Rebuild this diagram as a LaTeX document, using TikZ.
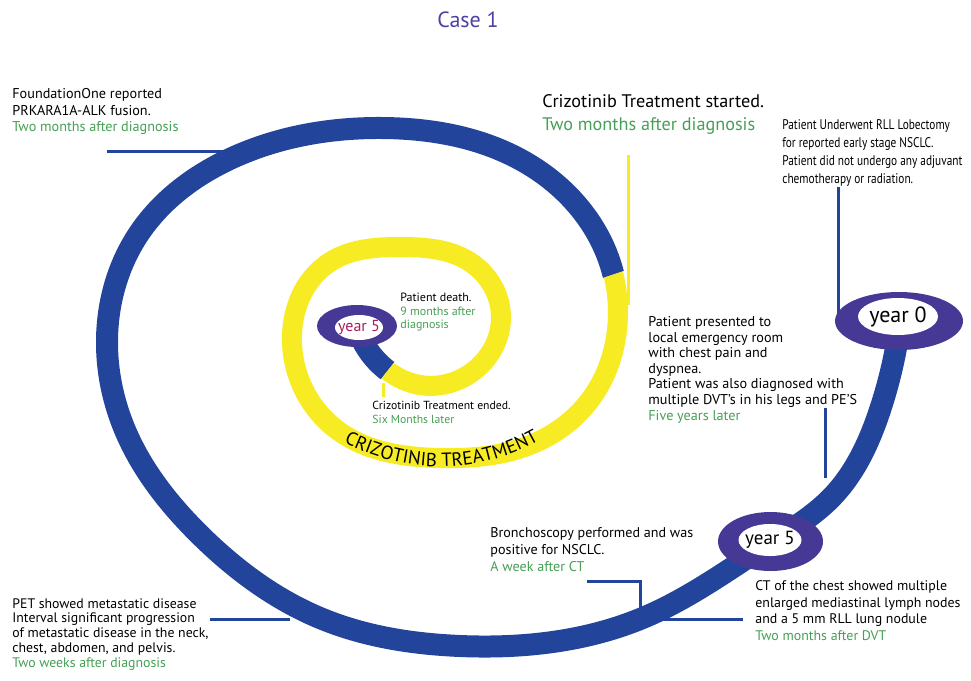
\documentclass[tikz,border=0pt]{standalone}
\usepackage{fontspec}
\setmainfont{PT Sans}
\newfontfamily\narrowfont{PT Sans}[FakeStretch=0.81]
\usetikzlibrary{shapes.geometric, decorations.text, hobby}

\definecolor{bandblue}{RGB}{34, 68, 155}
\definecolor{bandyellow}{RGB}{247, 236, 35}
\definecolor{ringpurple}{RGB}{70, 57, 150}
\definecolor{notegreen}{RGB}{70, 160, 85}
\definecolor{titlepurple}{RGB}{75, 65, 165}
\definecolor{deathred}{RGB}{175, 25, 95}

\newcommand{\when}[1]{\textcolor{notegreen}{#1}}
\newcommand{\fsize}[2]{\fontsize{#1}{#2}\selectfont}
\newcommand{\bandfont}{\fontsize{9.5}{9.5}\selectfont}
% centre line of the timeline, from year 0 inwards
\newcommand{\casespiral}{(899,-330) .. (880,-410) .. (832,-497) .. (770,-543)
  .. (645,-617) .. (460,-646) .. (320,-618) .. (200,-535) .. (125,-430)
  .. (107,-340) .. (140,-232) .. (232,-158) .. (383,-128) .. (533,-167)
  .. (613,-273) .. (617,-330) .. (590,-400) .. (530,-445) .. (440,-458)
  .. (340,-432) .. (292,-343) .. (330,-262) .. (400,-247) .. (470,-262)
  .. (501,-317) .. (475,-370) .. (420,-385) .. (388,-371) .. (358,-330)}

\begin{document}
\begin{tikzpicture}[
    x=0.5pt, y=0.5pt,
    note/.style={anchor=north west, inner sep=0pt, align=left},
    leader/.style={bandblue, line width=1.5pt},
    yleader/.style={bandyellow, line width=1.5pt},
    blueband/.style={bandblue, line width=11pt, use Hobby shortcut},
    yellowband/.style={bandyellow, line width=10pt, use Hobby shortcut},
    ring/.style={ellipse, fill=ringpurple, inner sep=0pt},
    hole/.style={ellipse, fill=white, inner sep=0pt},
    yearlabel/.style={inner sep=0pt}
  ]
  \useasboundingbox (0,0) rectangle (971,-681);
  \fill[white] (0,0) rectangle (971,-681);

  % Title
  \node[font=\fsize{11}{13}, text=titlepurple] (title) at (468,-20) {Case 1};

  % Event notes
  \node[note, font=\fsize{7.1}{8.35}] (fusion) at (12,-88)
    {FoundationOne reported\\PRKARA1A-ALK fusion.\\\when{Two months after diagnosis}};
  \node[note, font=\fsize{9.1}{11.5}] (started) at (542,-94)
    {Crizotinib Treatment started.\\\when{Two months after diagnosis}};
  \node[note, font=\narrowfont\fsize{7}{9}] (lobectomy) at (782,-119)
    {Patient Underwent RLL Lobectomy\\for reported early stage NSCLC.\\Patient did not undergo any adjuvant\\chemotherapy or radiation.};
  \node[note, font=\fsize{7.1}{7.8}] (presented) at (648,-316)
    {Patient presented to\\local emergency room\\with chest pain and\\dyspnea.\\Patient was also diagnosed with\\multiple DVT’s in his legs and PE’S\\\when{Five years later}};
  \node[note, font=\fsize{6}{6.75}] (death) at (400,-293)
    {Patient death.\\\when{9 months after}\\\when{diagnosis}};
  \node[note, font=\fsize{5.85}{7}] (ended) at (372,-401)
    {Crizotinib Treatment ended.\\\when{Six Months later}};
  \node[note, font=\fsize{7.05}{8.65}] (bronch) at (490,-527)
    {Bronchoscopy performed and was\\positive for NSCLC.\\\when{A week after CT}};
  \node[note, font=\fsize{6.95}{8.35}] (ct) at (755,-580)
    {CT of the chest showed multiple\\enlarged mediastinal lymph nodes\\and a 5 mm RLL lung nodule\\\when{Two months after DVT}};
  \node[note, font=\fsize{6.9}{7.4}] (pet) at (12,-598)
    {PET showed metastatic disease\\Interval significant progression\\of metastatic disease in the neck,\\chest, abdomen, and pelvis.\\\when{Two weeks after diagnosis}};

  % Timeline band: blue, yellow while on crizotinib
  \draw[blueband] \casespiral;
  \begin{scope}
    \clip (265,-232) -- (540,-232) -- (540,-402) -- (378,-402) -- (378,-383)
      -- (397,-359) -- (397,-300) -- (340,-300) -- (340,-362) -- (372,-408)
      -- (546,-408) -- (546,-232) -- (590,-262) -- (603,-278) -- (624,-271)
      -- (660,-262) -- (660,-495) -- (265,-495) -- cycle;
    \draw[white, line width=12pt, use Hobby shortcut] \casespiral;
    \draw[yellowband] \casespiral;
  \end{scope}
  \path[decorate, decoration={text along path, text align=center,
      text={|\bandfont|CRIZOTINIB TREATMENT}}]
    (335,-438) .. controls (400,-475) and (480,-478) .. (548,-435);

  % Leaders
  \draw[leader] (fusion.north west) ++(95,-63) -- ++(133,0);
  \draw[yleader] (started.north west) ++(86,-61) -- ++(0,-150);
  \draw[leader] (lobectomy.north west) ++(56,-68) -- ++(0,-131);
  \draw[leader] (presented.north west) ++(177,-92) -- ++(0,-70);
  \draw[leader] (bronch.north west) ++(97,-54) -- ++(53,0) -- ++(0,-27);
  \draw[leader] (ct.north west) ++(-12,-39) -- ++(-80,0);
  \draw[leader] (pet.north west) ++(198,-21) -- ++(80,0);
  \draw[yleader] (ended.north west) ++(11,18) -- ++(0,-14);

  % Year markers
  \node[ring, minimum width=64pt, minimum height=29pt] (year0) at (899,-321) {};
  \node[hole, minimum width=40pt, minimum height=18.5pt] (year0hole) at (898,-316.5) {};
  \node[yearlabel, font=\fsize{11}{11}] (year0text) at (year0hole) {year 0};

  \node[ring, minimum width=52.5pt, minimum height=29.5pt] (year5) at (770.5,-541.5) {};
  \node[hole, minimum width=31.5pt, minimum height=16pt] (year5hole) at (770,-540) {};
  \node[yearlabel, font=\fsize{9.5}{9.5}] (year5text) at (year5hole) {year 5};

  \node[ring, minimum width=40pt, minimum height=21pt] (endring) at (357,-326) {};
  \node[hole, minimum width=24pt, minimum height=12.5pt] (endhole) at (359,-327.5) {};
  \node[yearlabel, font=\fsize{8}{8}, text=deathred] (endtext) at (endhole) {year 5};
\end{tikzpicture}
\end{document}
